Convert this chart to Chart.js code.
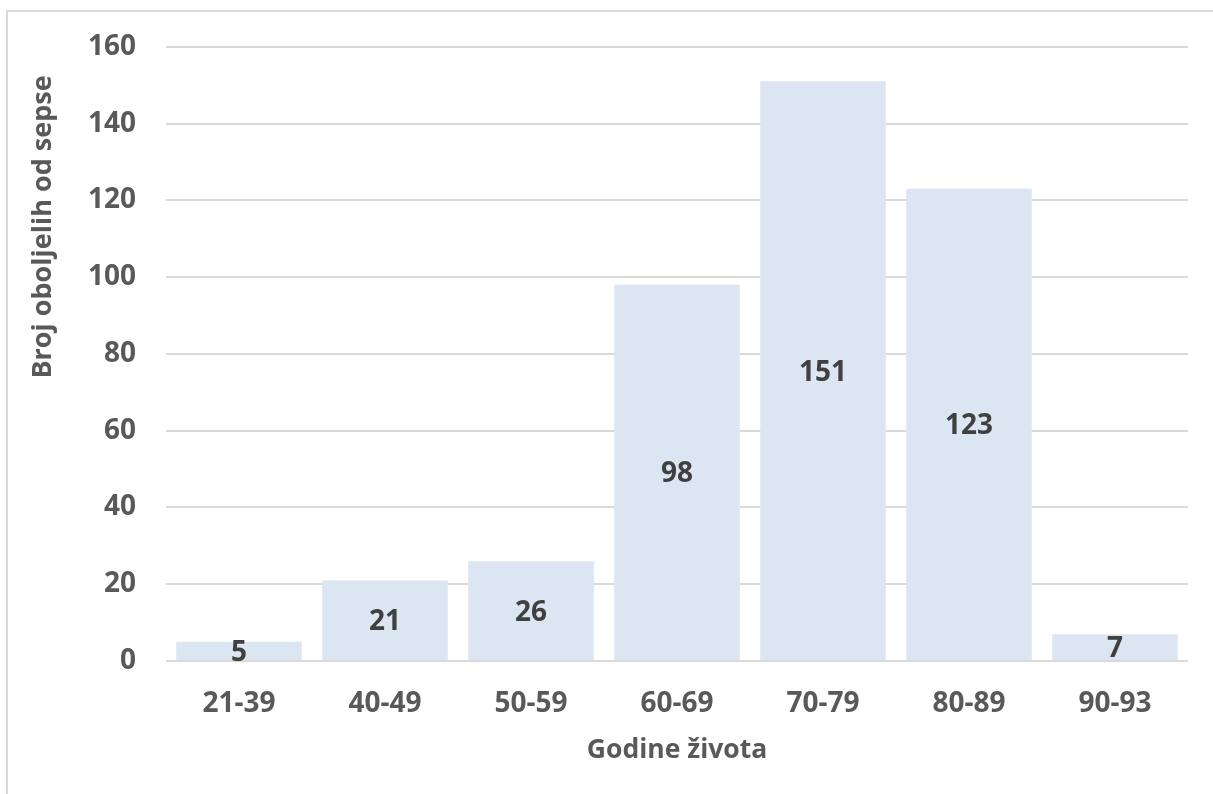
<!DOCTYPE html>
<html>
<head>
<meta charset="utf-8">
<script src="https://cdn.jsdelivr.net/npm/chart.js@4.4.0/dist/chart.umd.min.js"></script>
<style>
    html, body { margin: 0; padding: 0; background: #fff; }
    .wrap { position: relative; width: 1213px; height: 794px; overflow: hidden; }
    .frame { position: absolute; left: 6px; top: 10px; width: 1300px; height: 900px;
             border-left: 2px solid #d9d9d9; border-top: 2px solid #d9d9d9; }
    canvas { position: absolute; left: 0; top: 0; }
</style>
</head>
<body>
<div class="wrap">
    <div class="frame"></div>
    <canvas id="sepsaChart" width="1213" height="794"></canvas>
</div>
<script>
// Data
const ageGroups = ['21-39', '40-49', '50-59', '60-69', '70-79', '80-89', '90-93'];
const patients = [5, 21, 26, 98, 151, 123, 7];
const yTitle = 'Broj oboljelih od sepse';
const xTitle = 'Godine života';

const FONT = "'Open Sans', sans-serif";

// Value labels in the middle of each bar
const barLabels = {
    id: 'barLabels',
    afterDatasetsDraw(chart) {
        const ctx = chart.ctx;
        const meta = chart.getDatasetMeta(0);
        ctx.save();
        ctx.font = 'bold 28px ' + FONT;
        ctx.fillStyle = '#404040';
        ctx.textAlign = 'center';
        ctx.textBaseline = 'middle';
        meta.data.forEach((bar, i) => {
            ctx.fillText(patients[i], bar.x, (bar.y + bar.base) / 2 + 2);
        });
        ctx.restore();
    }
};

// Y axis title (sits higher than the plot centre, like the original)
const yAxisTitle = {
    id: 'yAxisTitle',
    afterDraw(chart) {
        const ctx = chart.ctx;
        ctx.save();
        ctx.translate(43, 227);
        ctx.rotate(-Math.PI / 2);
        ctx.font = 'bold 27px ' + FONT;
        ctx.fillStyle = '#595959';
        ctx.textAlign = 'center';
        ctx.textBaseline = 'middle';
        ctx.fillText(yTitle, 0, 0);
        ctx.restore();
    }
};

new Chart(document.getElementById('sepsaChart').getContext('2d'), {
    type: 'bar',
    data: {
        labels: ageGroups,
        datasets: [{
            data: patients,
            backgroundColor: '#dce6f2',
            borderWidth: 0,
            categoryPercentage: 0.86,
            barPercentage: 1
        }]
    },
    options: {
        responsive: false,
        animation: false,
        devicePixelRatio: 1,
        layout: {
            padding: { left: 0, right: 25, top: 44, bottom: 0 }
        },
        plugins: {
            legend: { display: false },
            tooltip: { enabled: false }
        },
        scales: {
            x: {
                grid: { display: false, drawTicks: false },
                border: { display: false },
                ticks: {
                    color: '#595959',
                    font: { family: FONT, size: 28, weight: 'bold' },
                    padding: 26
                },
                title: {
                    display: true,
                    text: xTitle,
                    color: '#595959',
                    font: { family: FONT, size: 26.5, weight: 'bold' },
                    padding: { top: 0, bottom: 28 }
                },
                afterFit(scale) { scale.height = 133; }
            },
            y: {
                min: 0,
                max: 160,
                grid: { color: '#d9d9d9', lineWidth: 2, drawTicks: false },
                border: { display: false },
                ticks: {
                    stepSize: 20,
                    color: '#595959',
                    font: { family: FONT, size: 28, weight: 'bold' },
                    padding: 30
                },
                afterFit(scale) { scale.width = 166; }
            }
        }
    },
    plugins: [barLabels, yAxisTitle]
});
</script>
</body>
</html>
